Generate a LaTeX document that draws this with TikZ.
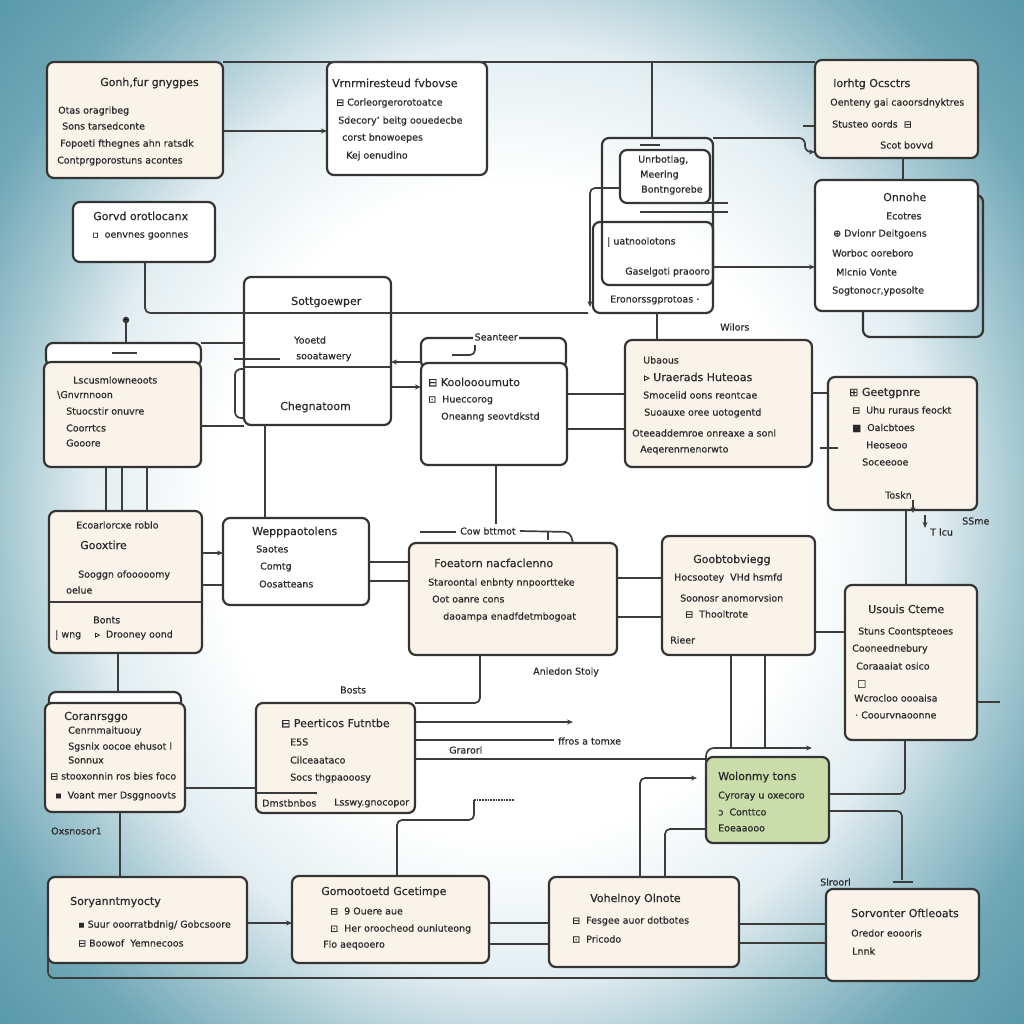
\documentclass[tikz,border=0pt]{standalone}
\usepackage{fontspec}
\setmainfont{DejaVu Sans}[FakeBold=0.5]
\usetikzlibrary{arrows.meta}

\definecolor{cream}{HTML}{FAF3EA}
\definecolor{edge}{HTML}{343434}
\definecolor{wire}{HTML}{3C3C3C}
\definecolor{sage}{HTML}{C9DCA9}
\definecolor{ink}{HTML}{2A2A2A}
\definecolor{bgA}{HTML}{E2EDF0}
\definecolor{bgB}{HTML}{A8CAD3}
\definecolor{bgC}{HTML}{6FA7B6}
\definecolor{bgD}{HTML}{3B8698}

% soft vignette behind the chart
\pgfdeclareradialshading{backdrop}{\pgfpoint{0bp}{0bp}}{color(0bp)=(white); color(13bp)=(white); color(18.5bp)=(bgA); color(22bp)=(bgB); color(26bp)=(bgC); color(36bp)=(bgD); color(50bp)=(bgD)}

% a card from its top-left corner to its bottom-right corner
\newcommand\card[6][]{\node[card,#1,minimum width={#5-#3},minimum height={#6-#4}] (#2) at (#3,#4) {};}
% a line of text, left-aligned at its point
\newcommand\lbl[4][]{\node[txt,#1] (#2) at (#3) {#4};}

\begin{document}
\begin{tikzpicture}[x=1pt,y=-1pt,
  card/.style={draw=edge, line width=2.2pt, rounded corners=7pt, inner sep=0pt, outer sep=0pt, anchor=north west, fill=white},
  txt/.style={anchor=west, inner sep=0pt, text=ink, font=\fontsize{9.5}{11}\selectfont},
  ttl/.style={font=\fontsize{11}{13}\selectfont},
  wire/.style={draw=wire, line width=1.7pt, rounded corners=5pt},
  tip/.style={-{Stealth[length=6pt,width=5pt]}}]
\useasboundingbox (0,0) rectangle (1024,1024);
\begin{scope}
  \clip (0,0) rectangle (1024,1024);
  \shade[shading=backdrop] (-60,-120) rectangle (1084,1144);
\end{scope}

% ---------- cards ----------
\card[fill=cream]{A}{47}{62}{223}{178}
\card{B}{327}{62}{487}{175}
\card[fill=cream]{C}{815}{60}{978}{158}
\card{D}{73}{202}{215}{262}
\card[fill=none]{Eo}{602}{138}{713}{285}
\card[fill=none]{E2}{593}{222}{713}{313}
\card{E1}{620}{150}{710}{203}
\card[fill=none]{Fb}{863}{195}{983}{337}
\card{F}{815}{180}{978}{311}
\card{G}{244}{277}{391}{425}
\card{Ht}{46}{343}{201}{366}
\card[fill=cream]{H}{44}{362}{201}{467}
\card{It}{421}{338}{566}{368}
\card{I}{421}{363}{567}{465}
\card[fill=cream]{J}{625}{340}{812}{467}
\card[fill=cream]{K}{828}{377}{977}{510}
\card[fill=cream]{L}{49}{511}{202}{653}
\card{M}{223}{518}{369}{605}
\card[fill=cream]{N}{409}{543}{617}{655}
\card[fill=cream]{O}{662}{536}{815}{655}
\card[fill=cream]{P}{845}{585}{977}{740}
\card{Qt}{49}{692}{181}{710}
\card[fill=cream]{Q}{45}{703}{185}{812}
\card[fill=cream]{R}{256}{703}{415}{813}
\card[fill=sage]{S}{706}{757}{829}{843}
\card[fill=cream]{T}{48}{877}{247}{963}
\card[fill=cream]{U}{292}{876}{489}{963}
\card[fill=cream]{V}{549}{877}{739}{967}
\card[fill=cream]{W}{826}{889}{979}{981}

% dividers and inner strokes
\draw[wire] (G.west |- 0,367) -- (G.east |- 0,367);
\draw[wire] (L.west |- 0,602) -- (L.east |- 0,602);
\draw[wire,rounded corners=6pt] (G.west |- 0,369) -- (235,369) -- (235,418) -- (G.west |- 0,418);
\draw[wire] (234,359) -- (280,359);
\draw[wire] (112,353) -- (137,353);
\draw[wire] (R.west |- 0,793) -- (317,793);
\draw[wire] (640,145) -- (660,145);
\draw[wire] (640,203) -- (728,203);
\draw[wire] (640,212) -- (728,212);

% ---------- connectors ----------
\draw[wire,tip] (A.east |- 0,131) -- (B.west |- 0,131);
\draw[wire] (A.north east) -- (C.north west |- A.north east);
\draw[wire] (652,62) -- (Eo.north -| 652,0);
\draw[wire,tip,rounded corners=6pt] (Eo.north east) -- (805,138) -- (805,152) -- (C.west |- 0,152);
\draw[wire] (803,126) -- (C.west |- 0,126);
\draw[wire] (C.south -| 903,0) -- (F.north -| 903,0);
\draw[wire,tip] (E2.east |- 0,267) -- (F.west |- 0,267);
\draw[wire,tip] (E1.west |- 0,188) -- (590,188) -- (590,307);
\draw[wire] (D.south -| 145,0) -- (145,313) -- (588,313);
\draw[wire] (E2.south -| 657,0) -- (J.north -| 657,0);
\fill[wire] (126,320) circle (2.4);
\draw[wire] (126,320) -- (Ht.north -| 126,0);
\draw[wire] (Ht.north east) -- (G.west |- Ht.north east);
\draw[wire] (H.east |- 0,426) -- (G.west |- 0,426);
\draw[wire,tip] (It.west |- 0,362) -- (G.east |- 0,362);
\draw[wire,tip] (G.east |- 0,387) -- (I.west |- 0,387);
\draw[wire] (475,345) -- (475,355) -- (452,355);
\draw[wire] (I.east |- 0,394) -- (J.west |- 0,394);
\draw[wire] (I.east |- 0,429) -- (J.west |- 0,429);
\draw[wire] (J.east |- 0,393) -- (K.west |- 0,393);
\draw[wire] (820,448) -- (838,448);
\draw[wire] (K.south -| 906,0) -- (P.north -| 906,0);
\draw[wire,tip] (913,500) -- (913,513);
\draw[wire,tip] (925,515) -- (925,528);
\draw[wire] (G.south -| 265,0) -- (M.north -| 265,0);
\foreach \xx in {106,122,147} \draw[wire] (H.south -| \xx,0) -- (L.north -| \xx,0);
\draw[wire,tip] (L.east |- 0,553) -- (M.west |- 0,553);
\draw[wire] (L.east |- 0,585) -- (M.west |- 0,585);
\draw[wire] (M.east |- 0,562) -- (N.west |- 0,562);
\draw[wire] (M.east |- 0,581) -- (N.west |- 0,581);
\draw[wire] (I.south -| 496,0) -- (496,524);
\draw[wire] (420,532) -- (456,532);
\draw[wire] (N.east |- 0,578) -- (O.west |- 0,578);
\draw[wire] (N.east |- 0,617) -- (O.west |- 0,617);
\draw[wire] (N.south -| 480,0) -- (480,703) -- (R.north east);
\draw[wire] (O.east |- 0,632) -- (P.west |- 0,632);
\coordinate (pr) at (1000,702);
\draw[wire] (P.east |- pr) -- (pr);
\draw[wire] (O.south -| 731,0) -- (731,748);
\draw[wire] (O.south -| 765,0) -- (765,748);
\draw[wire,tip,rounded corners=8pt] (S.west |- 0,775) -- (706,748) -- (812,748);
\draw[wire] (S.east |- 0,794) -- (905,794) -- (P.south -| 905,0);
\draw[wire] (S.east |- 0,811) -- (902,811) -- (902,880);
\draw[wire] (893,882) -- (913,882);
\coordinate (ra) at (573,722);
\coordinate (rb) at (554,740);
\draw[wire,tip] (R.east |- ra) -- (ra);
\draw[wire] (R.east |- rb) -- (rb);
\draw[wire] (R.east |- 0,759) -- (S.west |- 0,759);
\draw[wire] (Q.east |- 0,788) -- (R.west |- 0,788);
\draw[wire] (L.south -| 118,0) -- (Qt.north -| 118,0);
\draw[wire] (Q.south -| 120,0) -- (T.north -| 120,0);
\draw[wire] (U.north -| 397,0) -- (397,820) -- (474,820) -- (474,800);
\draw[wire,densely dotted,rounded corners=0pt] (474,800) -- (514,800);
\draw[wire,tip] (V.north -| 640,0) -- (640,778) -- (697,778);
\draw[wire] (S.west |- 0,829) -- (665,829) -- (V.north -| 665,0);
\draw[wire,tip] (T.east |- 0,923) -- (U.west |- 0,923);
\draw[wire] (U.east |- 0,923) -- (V.west |- 0,923);
\draw[wire] (U.east |- 0,944) -- (V.west |- 0,944);
\draw[wire] (V.east |- 0,924) -- (W.west |- 0,924);
\draw[wire] (V.east |- 0,943) -- (W.west |- 0,943);
\draw[wire,rounded corners=6pt] (T.west |- 0,935) -- (48,978) -- (W.west |- 0,978);

% ---------- texts ----------
\lbl[ttl]{a0}{100,83}{Gonh,fur gnygpes}
\lbl{a1}{58,111}{Otas oragribeg}
\lbl{a2}{62,126}{Sons tarsedconte}
\lbl{a3}{60,144}{Fopoeti fthegnes ahn ratsdk}
\lbl{a4}{57,161}{Contprgporostuns acontes}

\lbl[ttl]{b0}{332,83}{Vrnrmiresteud fvbovse}
\lbl{b1}{336,103}{⊟ Corleorgerorotoatce}
\lbl{b2}{338,121}{Sdecory' beitg oouedecbe}
\lbl{b3}{342,138}{corst bnowoepes}
\lbl{b4}{346,156}{Kej oenudino}

\lbl[ttl]{c0}{833,84}{Iorhtg Ocsctrs}
\lbl{c1}{830,103}{Oenteny gai caoorsdnyktres}
\lbl{c2}{832,124}{Stusteo oords \ ⊟}
\lbl{c3}{880,145}{Scot bovvd}

\lbl[ttl]{d0}{93,216}{Gorvd orotlocanx}
\lbl{d1}{92,236}{▫ \ oenvnes goonnes}

\lbl{e1a}{638,160}{Unrbotlag,}
\lbl{e1b}{640,175}{Meering}
\lbl{e1c}{641,190}{Bontngorebe}
\lbl{e2a}{607,242}{| uatnoolotons}
\lbl{e2b}{625,272}{Gaselgoti praooro}
\lbl{e2c}{610,300}{Eronorssgprotoas ·}

\lbl[ttl]{f0}{883,197}{Onnohe}
\lbl{f1}{886,216}{Ecotres}
\lbl{f2}{833,234}{⊕ Dvionr Deitgoens}
\lbl{f3}{832,253}{Worboc ooreboro}
\lbl{f4}{836,272}{Mlcnio Vonte}
\lbl{f5}{832,291}{Sogtonocr,yposolte}
\lbl{wl}{720,327}{Wilors}

\lbl[ttl]{g0}{291,302}{Sottgoewper}
\lbl{g1}{294,340}{Yooetd}
\lbl{g2}{296,357}{sooatawery}
\lbl[ttl]{g3}{280,407}{Chegnatoom}

\lbl{h0}{73,380}{Lscusmlowneoots}
\lbl{h1}{57,395}{\textbackslash Gnvrnnoon}
\lbl{h2}{66,411}{Stuocstir onuvre}
\lbl{h3}{66,428}{Coorrtcs}
\lbl{h4}{66,443}{Gooore}

\lbl[fill=white,inner sep=1.5pt]{is}{473,337}{Seanteer}
\lbl[ttl]{i1}{428,382}{⊟ Kooloooumuto}
\lbl{i2}{428,400}{⊡ \ Hueccorog}
\lbl{i3}{441,417}{Oneanng seovtdkstd}

\lbl{j0}{643,360}{Ubaous}
\lbl[ttl]{j1}{644,377}{▹ Uraerads Huteoas}
\lbl{j2}{643,395}{Smoceiid oons reontcae}
\lbl{j3}{644,413}{Suoauxe oree uotogentd}
\lbl{j4}{632,433}{Oteeaddemroe onreaxe a sonl}
\lbl{j5}{640,450}{Aeqerenrnenorwto}

\lbl[ttl]{k0}{849,393}{⊞ Geetgpnre}
\lbl{k1}{852,410}{⊟ \ Uhu ruraus feockt}
\lbl{k2}{852,428}{■ \ Oalcbtoes}
\lbl{k3}{866,445}{Heoseoo}
\lbl{k4}{862,462}{Soceeooe}
\lbl{k5}{885,495}{Toskn}
\lbl{ks}{962,521}{SSme}
\lbl{kt}{930,532}{T lcu}

\lbl{l0}{76,525}{Ecoarlorcxe roblo}
\lbl[ttl]{l1}{80,545}{Gooxtire}
\lbl{l2}{78,575}{Sooggn ofooooomy}
\lbl{l3}{66,590}{oelue}
\lbl{l4}{93,620}{Bonts}
\lbl{l5}{55,635}{| wng}
\lbl{l6}{95,635}{▹ \ Drooney oond}

\lbl[ttl]{m0}{252,532}{Wepppaotolens}
\lbl{m1}{256,549}{Saotes}
\lbl{m2}{260,567}{Comtg}
\lbl{m3}{259,584}{Oosatteans}

\lbl{cw}{460,531}{Cow bttmot}
\draw[wire] ([xshift=4pt]cw.east) -- (570,532) -- (N.north -| 573,0);
\draw[wire] (548,532) -- (548,540);

\lbl[ttl]{n0}{434,563}{Foeatorn nacfaclenno}
\lbl{n1}{428,583}{Staroontal enbnty nnpoortteke}
\lbl{n2}{432,599}{Oot oanre cons}
\lbl{n3}{443,617}{daoampa enadfdetmbogoat}
\lbl{an}{533,672}{Aniedon Stoiy}

\lbl[ttl]{o0}{693,560}{Goobtobviegg}
\lbl{o1}{674,578}{Hocsootey \ VHd hsmfd}
\lbl{o2}{680,598}{Soonosr anomorvsion}
\lbl{o3}{685,614}{⊟ \ Thooltrote}
\lbl{o4}{670,640}{Rieer}

\lbl[ttl]{p0}{868,609}{Usouis Cteme}
\lbl{p1}{858,632}{Stuns Coontspteoes}
\lbl{p2}{852,649}{Cooneednebury}
\lbl{p3}{856,666}{Coraaaiat osico}
\lbl{p4}{857,684}{□}
\lbl{p5}{854,698}{Wcrocloo oooaisa}
\lbl{p6}{855,715}{· Coourvnaoonne}

\lbl[ttl]{q0}{64,717}{Coranrsggo}
\lbl{q1}{68,731}{Cenrnmaituouy}
\lbl{q2}{68,747}{Sgsnix oocoe ehusot l}
\lbl{q3}{68,760}{Sonnux}
\lbl{q4}{50,776}{⊟ stooxonnin ros bies foco}
\lbl{q5}{55,796}{▪ \ Voant mer Dsggnoovts}
\lbl{qx}{51,831}{Oxsnosor1}

\lbl{bs}{340,690}{Bosts}
\lbl[ttl]{r0}{281,723}{⊟ Peerticos Futntbe}
\lbl{r1}{290,742}{E5S}
\lbl{r2}{290,760}{Cilceaataco}
\lbl{r3}{290,778}{Socs thgpaooosy}
\lbl{r4}{262,803}{Dmstbnbos}
\lbl{r5}{334,803}{Lsswy.gnocopor}
\lbl{ft}{558,741}{ffros a tomxe}
\lbl{gr}{449,750}{Grarorl}

\lbl[ttl]{s0}{718,777}{Wolonmy tons}
\lbl{s1}{718,796}{Cyroray u oxecoro}
\lbl{s2}{718,812}{ɔ \ Conttco}
\lbl{s3}{718,828}{Eoeaaooo}

\lbl[ttl]{t0}{70,902}{Soryanntmyocty}
\lbl{t1}{78,925}{▪ Suur ooorratbdnig/ Gobcsoore}
\lbl{t2}{78,943}{⊟ Boowof \ Yemnecoos}

\lbl[ttl]{u0}{321,892}{Gomootoetd Gcetimpe}
\lbl{u1}{330,911}{⊟ \ 9 Ouere aue}
\lbl{u2}{330,929}{⊡ \ Her oroocheod ouniuteong}
\lbl{u3}{323,945}{Flo aeqooero}

\lbl[ttl]{v0}{590,899}{Vohelnoy Olnote}
\lbl{v1}{572,921}{⊟ \ Fesgee auor dotbotes}
\lbl{v2}{572,939}{⊡ \ Pricodo}

\lbl[ttl]{w0}{851,913}{Sorvonter Oftleoats}
\lbl{w1}{851,933}{Oredor eoooris}
\lbl{w2}{852,951}{Lnnk}
\lbl{sl}{820,882}{Slroorl}
\end{tikzpicture}
\end{document}
